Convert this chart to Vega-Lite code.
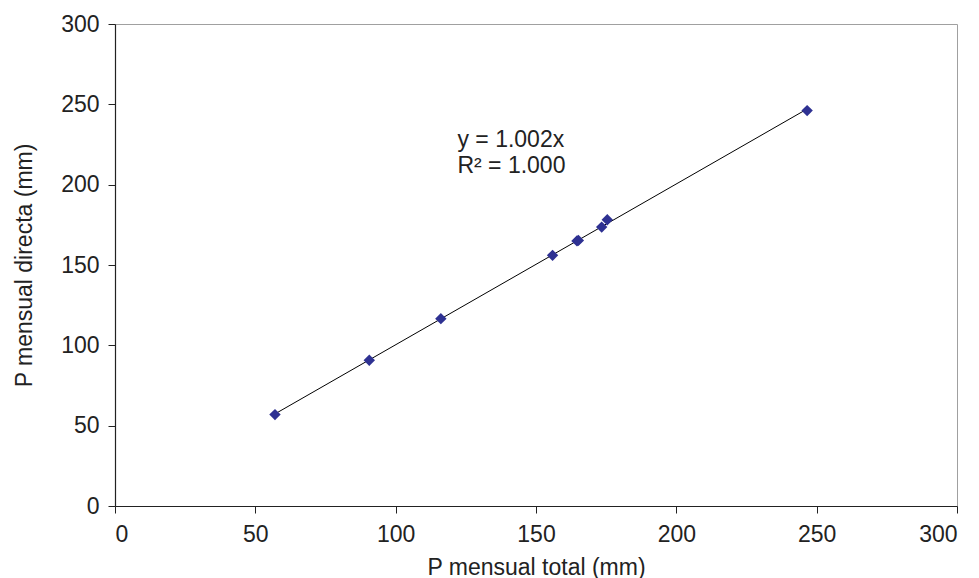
{
  "$schema": "https://vega.github.io/schema/vega-lite/v6.json",
  "width": 842,
  "height": 482,
  "autosize": "none",
  "padding": {"left": 115, "top": 24, "right": 22, "bottom": 72},
  "background": "white",
  "config": {
    "font": "Liberation Sans",
    "view": {"stroke": "#a0a0a0", "strokeWidth": 1},
    "axis": {
      "grid": false,
      "domainColor": "#222222",
      "domainWidth": 1.2,
      "tickColor": "#222222",
      "tickSize": 7,
      "labelFont": "Liberation Sans",
      "labelFontSize": 23,
      "labelColor": "#222222",
      "titleFont": "Liberation Sans",
      "titleFontSize": 23,
      "titleFontWeight": "normal",
      "titleColor": "#222222"
    }
  },
  "data": {
    "values": [
      {"total": 57.0, "directa": 56.9},
      {"total": 90.6, "directa": 90.7},
      {"total": 116.1, "directa": 116.6},
      {"total": 155.9, "directa": 156.0},
      {"total": 164.6, "directa": 165.0},
      {"total": 165.1, "directa": 165.3},
      {"total": 173.4, "directa": 173.6},
      {"total": 175.4, "directa": 178.2},
      {"total": 246.6, "directa": 246.1}
    ]
  },
  "layer": [
    {
      "transform": [{"regression": "directa", "on": "total"}],
      "mark": {"type": "line", "color": "#000000", "strokeWidth": 1},
      "encoding": {
        "x": {"field": "total", "type": "quantitative"},
        "y": {"field": "directa", "type": "quantitative"}
      }
    },
    {
      "mark": {"type": "point", "shape": "diamond", "filled": true, "size": 130, "color": "#2E3192", "opacity": 1},
      "encoding": {
        "x": {
          "field": "total",
          "type": "quantitative",
          "scale": {"domain": [0, 300], "nice": false},
          "axis": {"values": [0, 50, 100, 150, 200, 250, 300], "title": "P mensual total (mm)", "labelPadding": 10, "titlePadding": 10}
        },
        "y": {
          "field": "directa",
          "type": "quantitative",
          "scale": {"domain": [0, 300], "nice": false},
          "axis": {"values": [0, 50, 100, 150, 200, 250, 300], "title": "P mensual directa (mm)", "labelPadding": 9, "titlePadding": 24}
        }
      }
    },
    {
      "data": {"values": [{"label": "y = 1.002x"}]},
      "mark": {"type": "text", "align": "left", "baseline": "alphabetic", "fontSize": 23, "color": "#222222", "font": "Liberation Sans"},
      "encoding": {"text": {"field": "label"}, "x": {"datum": 122}, "y": {"datum": 223.6}}
    },
    {
      "data": {"values": [{"label": "R² = 1.000"}]},
      "mark": {"type": "text", "align": "left", "baseline": "alphabetic", "fontSize": 23, "color": "#222222", "font": "Liberation Sans"},
      "encoding": {"text": {"field": "label"}, "x": {"datum": 122}, "y": {"datum": 207.4}}
    }
  ]
}
